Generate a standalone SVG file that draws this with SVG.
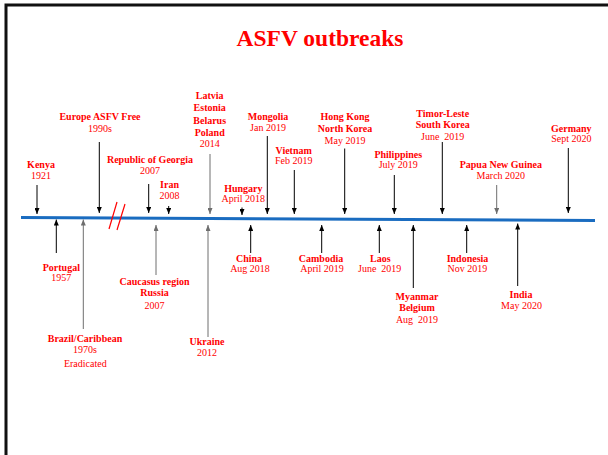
<svg xmlns="http://www.w3.org/2000/svg" width="608" height="455" viewBox="0 0 608 455">
<style>
  text { font-family: "Liberation Serif", "Times New Roman", serif; fill: #ff0000; text-anchor: middle; }
  .t { font-size: 23.5px; font-weight: bold; }
  .n { font-size: 10px; font-weight: bold; }
  .d { font-size: 10px; }
  .a { stroke: #000; stroke-width: 1; fill: none; marker-end: url(#ah); }
  .g { stroke: #6e6e6e; stroke-width: 1; fill: none; marker-end: url(#ahg); }
</style>
<defs>
  <marker id="ah" markerUnits="userSpaceOnUse" markerWidth="6" markerHeight="5" refX="6" refY="2.5" orient="auto" viewBox="0 0 6 5">
    <path d="M0,0 L6,2.5 L0,5 z" fill="#000"/>
  </marker>
  <marker id="ahg" markerUnits="userSpaceOnUse" markerWidth="6" markerHeight="5" refX="6" refY="2.5" orient="auto" viewBox="0 0 6 5">
    <path d="M0,0 L6,2.5 L0,5 z" fill="#6e6e6e"/>
  </marker>
</defs>
<rect width="608" height="455" fill="#fff"/>
<path d="M6,455 V5 H608" fill="none" stroke="#111" stroke-width="3"/>
<text class="t" x="320" y="46">ASFV outbreaks</text>

<g id="timeline">
  <line x1="21" y1="217.5" x2="595" y2="220.5" stroke="#1a6cc0" stroke-width="3"/>
  <line x1="117" y1="202" x2="109" y2="229" stroke="#ff0000" stroke-width="1.2"/>
  <line x1="125" y1="204" x2="117" y2="230" stroke="#ff0000" stroke-width="1.2"/>
</g>

<g id="connectors">
  <line class="a" x1="37" y1="185" x2="37" y2="214"/>
  <line class="a" x1="99.3" y1="142" x2="99.3" y2="213"/>
  <line class="a" x1="148.7" y1="184" x2="148.7" y2="213"/>
  <line class="a" x1="168.7" y1="206" x2="168.7" y2="214"/>
  <line class="g" x1="210" y1="154" x2="210" y2="214"/>
  <line class="a" x1="242" y1="207.5" x2="242" y2="215"/>
  <line class="a" x1="267.3" y1="136" x2="267.3" y2="214"/>
  <line class="a" x1="294.3" y1="170" x2="294.3" y2="214"/>
  <line class="a" x1="344.7" y1="148.5" x2="344.7" y2="214"/>
  <line class="a" x1="394.3" y1="175" x2="394.3" y2="214"/>
  <line class="a" x1="442.3" y1="142" x2="442.3" y2="214"/>
  <line class="g" x1="496.7" y1="185" x2="496.7" y2="214"/>
  <line class="a" x1="568.3" y1="148" x2="568.3" y2="213"/>

  <line class="a" x1="56.3" y1="253" x2="56.3" y2="219.5"/>
  <line class="g" x1="83.3" y1="329" x2="83.3" y2="219.5"/>
  <line class="g" x1="156" y1="275" x2="156" y2="225"/>
  <line class="g" x1="208" y1="337" x2="208" y2="225"/>
  <line class="a" x1="250.7" y1="253" x2="250.7" y2="225"/>
  <line class="a" x1="321.7" y1="253" x2="321.7" y2="225"/>
  <line class="a" x1="379.3" y1="253" x2="379.3" y2="225"/>
  <line class="a" x1="413.3" y1="288" x2="413.3" y2="225"/>
  <line class="a" x1="466.7" y1="253" x2="466.7" y2="225"/>
  <line class="a" x1="517.7" y1="286" x2="517.7" y2="223.5"/>
</g>

<g id="kenya"><text class="n" x="41" y="168.3">Kenya</text><text class="d" x="41" y="179.3">1921</text></g>
<g id="europe"><text class="n" x="100" y="120">Europe ASFV Free</text><text class="d" x="100" y="131.7">1990s</text></g>
<g id="georgia"><text class="n" x="150" y="163.3">Republic of Georgia</text><text class="d" x="150" y="174">2007</text></g>
<g id="iran"><text class="n" x="169.5" y="188.3">Iran</text><text class="d" x="169.5" y="199">2008</text></g>
<g id="latvia"><text class="n" x="209.7" y="99.3">Latvia</text><text class="n" x="209.7" y="110.7">Estonia</text><text class="n" x="209.7" y="124">Belarus</text><text class="n" x="209.7" y="136">Poland</text><text class="d" x="209.7" y="146.7">2014</text></g>
<g id="hungary"><text class="n" x="243.3" y="191.7">Hungary</text><text class="d" x="243.3" y="201.7">April 2018</text></g>
<g id="mongolia"><text class="n" x="268" y="120">Mongolia</text><text class="d" x="268" y="130.7">Jan 2019</text></g>
<g id="vietnam"><text class="n" x="293.7" y="154">Vietnam</text><text class="d" x="293.7" y="164">Feb 2019</text></g>
<g id="hongkong"><text class="n" x="345" y="120">Hong Kong</text><text class="n" x="345" y="131.7">North Korea</text><text class="d" x="345" y="144">May 2019</text></g>
<g id="philippines"><text class="n" x="398.3" y="158.3">Philippines</text><text class="d" x="398.3" y="168.3">July 2019</text></g>
<g id="timor"><text class="n" x="442.7" y="117.3">Timor-Leste</text><text class="n" x="442.7" y="127.8">South Korea</text><text class="d" x="442.7" y="140">June&#160; 2019</text></g>
<g id="png"><text class="n" x="500.8" y="168.3">Papua New Guinea</text><text class="d" x="500.8" y="179.3">March 2020</text></g>
<g id="germany"><text class="n" x="571.3" y="131.7">Germany</text><text class="d" x="571.3" y="141.7">Sept 2020</text></g>

<g id="portugal"><text class="n" x="61.3" y="270.7">Portugal</text><text class="d" x="61.3" y="280.7">1957</text></g>
<g id="brazil"><text class="n" x="85" y="342.3">Brazil/Caribbean</text><text class="d" x="85" y="352.7">1970s</text><text class="d" x="85.3" y="366.7">Eradicated</text></g>
<g id="caucasus"><text class="n" x="154.5" y="285">Caucasus region</text><text class="n" x="154.5" y="296">Russia</text><text class="d" x="154.5" y="309">2007</text></g>
<g id="ukraine"><text class="n" x="207" y="345">Ukraine</text><text class="d" x="207" y="355.7">2012</text></g>
<g id="china"><text class="n" x="249" y="262.3">China</text><text class="d" x="250" y="272.3">Aug 2018</text></g>
<g id="cambodia"><text class="n" x="321" y="262.3">Cambodia</text><text class="d" x="322" y="272.3">April 2019</text></g>
<g id="laos"><text class="n" x="380.3" y="262.3">Laos</text><text class="d" x="379.7" y="272.3">June&#160; 2019</text></g>
<g id="myanmar"><text class="n" x="417" y="300">Myanmar</text><text class="n" x="417" y="311">Belgium</text><text class="d" x="417" y="323">Aug&#160; 2019</text></g>
<g id="indonesia"><text class="n" x="467.5" y="262.3">Indonesia</text><text class="d" x="467.3" y="272.3">Nov 2019</text></g>
<g id="india"><text class="n" x="521" y="298.3">India</text><text class="d" x="521.5" y="309">May 2020</text></g>
</svg>
